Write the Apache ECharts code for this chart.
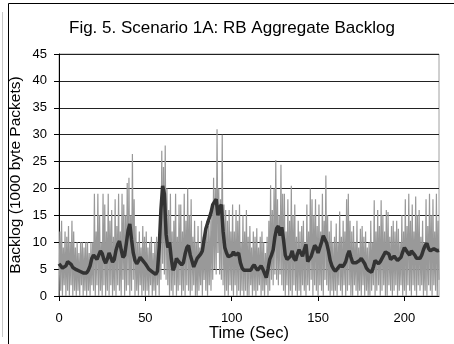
<!DOCTYPE html>
<html>
<head>
<meta charset="utf-8">
<script src="https://cdn.jsdelivr.net/npm/echarts@6/dist/echarts.min.js"></script>
<style>
html,body{margin:0;padding:0;background:#fff;}
#main{width:454px;height:344px;}
</style>
</head>
<body>
<div id="main"></div>
<script>
// raw backlog samples (grey), one every half second, rows of 10 s
var rawBacklog = [
  0, 12, 1, 14, 0, 9, 2, 12, 0, 11, 1, 13, 0, 10, 2, 14, 0, 12, 1, 9,
  0, 10, 1, 8, 0, 10, 2, 10, 0, 9, 1, 10, 0, 10, 1, 8, 0, 10, 2, 10,
  1, 19, 0, 12, 2, 19, 0, 15, 1, 10, 0, 19, 2, 17, 0, 12, 1, 19, 0, 14,
  2, 16, 0, 11, 1, 18, 0, 13, 2, 19, 1, 12, 0, 19, 3, 17, 0, 15, 1, 21,
  2, 22, 0, 15, 1, 26.4, 3, 18, 0, 13, 1, 10, 0, 12, 2, 9, 0, 13, 1, 11,
  0, 12, 1, 9, 0, 10, 2, 11, 0, 8, 1, 10, 0, 11, 2, 10, 0, 15, 3, 27,
  6, 24, 4, 28, 3, 20, 2, 16, 0, 19, 1, 12, 0, 14, 2, 19, 0, 11, 1, 17,
  2, 17, 0, 12, 1, 19, 0, 14, 2, 20, 1, 15, 0, 18, 1, 11, 2, 14, 0, 10,
  0, 13, 1, 9, 2, 14, 0, 11, 3, 12, 1, 14, 0, 13, 2, 14, 1, 16, 3, 22,
  5, 20, 4, 31, 8, 20, 4, 18, 3, 30, 2, 17, 0, 16, 1, 14, 0, 16, 2, 12,
  1, 17, 0, 12, 2, 16, 0, 14, 1, 17, 0, 10, 1, 15, 0, 12, 1, 16, 0, 11,
  0, 13, 2, 9, 0, 12, 1, 11, 0, 12.6, 1, 9, 2, 11, 0, 12, 1, 10, 0, 8,
  2, 11, 0, 14, 1, 20.6, 3, 16, 2, 20, 4, 25.3, 3, 18, 2, 15, 4, 24.4, 2, 19,
  1, 19, 0, 12, 2, 18, 0, 14, 1, 20.5, 0, 15, 2, 17, 1, 11, 0, 14, 1, 12,
  0, 13, 2, 14, 1, 10, 0, 17, 2, 12, 1, 20, 3, 18, 0, 15, 2, 18, 1, 13,
  0, 17, 2, 12, 1, 19, 0, 14, 3, 22.4, 2, 15, 1, 12, 0, 14, 1, 10, 0, 11,
  1, 13.5, 0, 10, 2, 15.7, 1, 11, 0, 14, 2, 12, 0, 18, 1, 19, 2, 14, 0, 12,
  0, 13, 2, 10, 1, 14, 0, 9, 1, 12.5, 0, 13, 2, 11, 0, 12, 1, 9, 0, 10,
  0, 14, 1, 10, 2, 17.8, 0, 12, 1, 16, 2, 13, 0, 17.8, 1, 15, 2, 12, 0, 16,
  0, 15.6, 2, 11, 1, 13, 0, 14, 1, 12, 2, 14, 0, 12.5, 1, 10, 2, 15, 0, 12,
  1, 18, 0, 13, 2, 19, 1, 14, 0, 17, 2, 12, 1, 18.5, 0, 15, 2, 16, 1, 11,
  2, 14, 0, 10, 1, 18, 0, 13, 2, 19, 1, 15, 0, 18, 2, 12, 1, 19, 0, 14,
  3
];
var rawStep = 0.5;

// smoothed backlog (dark line), one per second
var avgBacklog = [
  6.0, 5.6, 5.2, 5.0, 5.6, 6.4, 6.5, 5.9, 5.3, 5.0,
  4.9, 4.7, 4.6, 4.5, 4.3, 4.1, 4.3, 4.8, 5.6, 7.0,
  7.6, 7.3, 6.8, 7.6, 8.4, 7.9, 6.8, 6.1, 6.9, 8.0,
  7.2, 6.3, 6.8, 8.5, 9.6, 10.2, 8.6, 7.2, 7.6, 9.8,
  12.2, 13.4, 10.5, 8.0, 6.6, 6.0, 6.5, 7.2, 6.9, 6.4,
  6.0, 5.5, 5.0, 4.7, 4.5, 4.4, 4.0, 4.6, 9.0, 16.0,
  20.5, 19.0, 11.5, 9.0, 10.0, 7.0, 4.8, 5.5, 7.0, 6.5,
  6.2, 5.8, 6.2, 7.8, 9.0, 9.4, 7.6, 6.5, 5.4, 5.4,
  7.0, 7.2, 7.8, 8.4, 10.5, 12.5, 13.5, 14.5, 15.5, 17.0,
  17.5, 18.0, 15.0, 16.5, 17.0, 12.0, 9.0, 8.0, 7.3, 7.0,
  7.6, 8.2, 7.6, 7.4, 8.0, 6.2, 5.2, 4.8, 4.6, 4.8,
  5.0, 4.8, 5.4, 5.8, 5.2, 4.8, 5.0, 5.6, 5.0, 4.2,
  3.4, 5.0, 6.8, 7.6, 8.6, 11.0, 12.6, 13.0, 11.2, 12.8,
  10.4, 7.6, 6.8, 6.6, 7.4, 8.4, 7.0, 6.6, 7.8, 8.6,
  8.0, 7.4, 8.6, 9.6, 6.4, 6.6, 7.4, 8.4, 9.4, 9.0,
  8.0, 8.2, 10.0, 11.2, 11.4, 9.8, 8.4, 6.6, 5.6, 5.0,
  4.6, 4.8, 5.4, 5.8, 5.4, 5.8, 6.4, 7.6, 8.4, 7.2,
  6.2, 6.4, 6.2, 6.0, 6.6, 7.0, 6.8, 6.0, 5.2, 4.8,
  4.5, 4.4, 5.4, 6.6, 6.4, 6.0, 6.4, 7.0, 7.6, 8.2,
  8.2, 7.8, 6.8, 7.0, 7.4, 7.0, 6.6, 6.5, 7.2, 8.2,
  9.0, 9.0, 8.0, 7.6, 8.4, 8.2, 7.6, 7.0, 6.8, 7.0,
  7.6, 8.6, 9.4, 9.8, 8.8, 8.4, 8.6, 8.8, 8.8, 8.4, 8.5
];
var avgStep = 1;

var xTicks = [0, 50, 100, 150, 200];

function pairs(ys, step) {
  var out = [];
  for (var i = 0; i < ys.length; i++) { out.push([i * step, ys[i]]); }
  return out;
}

var myChart = echarts.init(document.getElementById('main'));
var font = 'Liberation Sans, Arial, sans-serif';

var option = {
  backgroundColor: '#fff',
  animation: false,
  title: {
    text: 'Fig. 5. Scenario 1A: RB Aggregate Backlog',
    left: 227,
    top: 15,
    textAlign: 'center',
    textStyle: { fontFamily: font, fontSize: 17, fontWeight: 'normal', color: '#000' }
  },
  grid: {
    left: 59, right: 15, top: 54, bottom: 48,
    outerBoundsMode: 'none',
    containLabel: false,
    show: true, borderColor: '#a0a0a0', borderWidth: 1, backgroundColor: 'transparent'
  },
  xAxis: {
    type: 'value',
    min: 0, max: 220, interval: 50,
    name: 'Time (Sec)',
    nameLocation: 'middle',
    nameGap: 29,
    nameMoveOverlap: false,
    nameTextStyle: { fontFamily: font, fontSize: 16.5, color: '#000' },
    axisLine: { lineStyle: { color: '#000', width: 1 } },
    axisTick: { show: true, length: 5, lineStyle: { color: '#000' },
      customValues: xTicks },
    axisLabel: { fontFamily: font, fontSize: 13, color: '#000', margin: 16,
      customValues: xTicks },
    splitLine: { show: false }
  },
  yAxis: {
    type: 'value',
    min: 0, max: 45, interval: 5,
    name: 'Backlog (1000 byte Packets)',
    nameLocation: 'middle',
    nameGap: 35,
    nameMoveOverlap: false,
    nameTextStyle: { fontFamily: font, fontSize: 15.5, color: '#000' },
    axisLine: { show: true, lineStyle: { color: '#000', width: 1 } },
    axisTick: { show: true, length: 5, lineStyle: { color: '#000' } },
    axisLabel: { fontFamily: font, fontSize: 13, color: '#000', margin: 12 },
    splitLine: { show: true, lineStyle: { color: '#222', width: 1 } }
  },
  graphic: [
    { type: 'line', shape: { x1: 8.5, y1: 3.5, x2: 8.5, y2: 344 }, style: { stroke: '#000', lineWidth: 1 } },
    { type: 'line', shape: { x1: 8.5, y1: 3.5, x2: 454, y2: 3.5 }, style: { stroke: '#000', lineWidth: 1 } },
    { type: 'line', shape: { x1: 2.5, y1: 12, x2: 2.5, y2: 337 }, style: { stroke: '#c8c8c8', lineWidth: 1 } }
  ],
  series: [
    {
      name: 'raw',
      type: 'line',
      data: pairs(rawBacklog, rawStep),
      showSymbol: false,
      lineStyle: { color: '#999', width: 1.2 },
      z: 2
    },
    {
      name: 'avg',
      type: 'line',
      data: pairs(avgBacklog, avgStep),
      showSymbol: false,
      lineStyle: { color: '#333', width: 3.5 },
      z: 3
    }
  ]
};

myChart.setOption(option);
</script>
</body>
</html>
